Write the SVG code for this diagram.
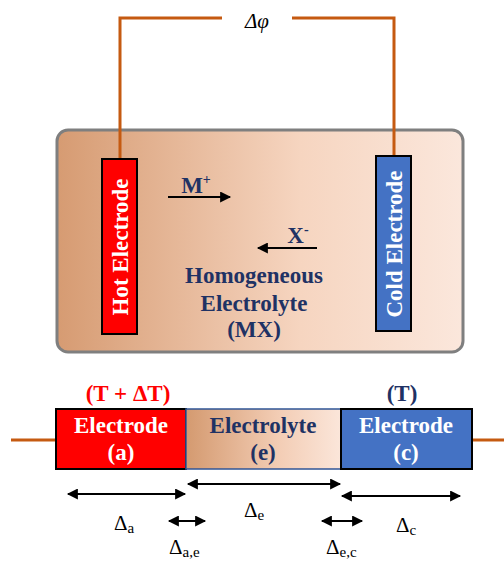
<svg xmlns="http://www.w3.org/2000/svg" width="504" height="562" viewBox="0 0 504 562">
<defs>
<linearGradient id="gbox" x1="0" y1="0" x2="1" y2="0">
<stop offset="0" stop-color="#d69b72"/>
<stop offset="0.6" stop-color="#f6d5c0"/>
<stop offset="1" stop-color="#fbe7dc"/>
</linearGradient>
<linearGradient id="gel" x1="0" y1="0" x2="1" y2="0">
<stop offset="0" stop-color="#d49a70"/>
<stop offset="0.6" stop-color="#f3cdb5"/>
<stop offset="1" stop-color="#fbe6da"/>
</linearGradient>
<marker id="ah" viewBox="0 0 10 10" refX="9" refY="5" markerWidth="5.5" markerHeight="5" orient="auto-start-reverse" markerUnits="strokeWidth">
<path d="M0,0 L10,5 L0,10 Z" fill="#000"/>
</marker>
</defs>
<style>
.wire{fill:none;stroke:#c55a11;stroke-width:3}
.arr{fill:none;stroke:#000;stroke-width:2.2}
.bt{font-size:23px;font-weight:bold;text-anchor:middle}
.wt{fill:#fff}
.nv{fill:#1f3264}
.rd{fill:#ff0000}
.dl{fill:#000;font-size:21px}
.sb{font-size:15px}
</style>
<g id="cell">
<rect x="57" y="130" width="406" height="222" rx="11" fill="url(#gbox)" stroke="#7f7f7f" stroke-width="3"/>
</g>
<g id="connectors">
<path class="wire" d="M120,159 V18 H222"/>
<path class="wire" d="M292,18 H394 V156"/>
<line class="wire" x1="11" y1="440" x2="56" y2="440"/>
<line class="wire" x1="472" y1="440" x2="504" y2="440"/>
<line class="arr" x1="168" y1="197" x2="230" y2="197" marker-end="url(#ah)"/>
<line class="arr" x1="317" y1="248" x2="258" y2="248" marker-end="url(#ah)"/>
<line class="arr" x1="68" y1="494" x2="185" y2="494" marker-start="url(#ah)" marker-end="url(#ah)"/>
<line class="arr" x1="188" y1="484" x2="340" y2="484" marker-start="url(#ah)" marker-end="url(#ah)"/>
<line class="arr" x1="342" y1="496" x2="460" y2="496" marker-start="url(#ah)" marker-end="url(#ah)"/>
<line class="arr" x1="169" y1="521" x2="205" y2="521" marker-start="url(#ah)" marker-end="url(#ah)"/>
<line class="arr" x1="322" y1="521" x2="362" y2="521" marker-start="url(#ah)" marker-end="url(#ah)"/>
</g>
<g font-family="Liberation Serif, DejaVu Serif, serif">
<g id="dphi"><text x="257" y="28" font-style="italic" font-size="21" text-anchor="middle">Δφ</text></g>
<g id="hot">
<rect x="102" y="159" width="35" height="175" fill="#ff0000" stroke="#000" stroke-width="2"/>
<text class="bt wt" transform="translate(128,247) rotate(-90)">Hot Electrode</text>
</g>
<g id="cold">
<rect x="376" y="156" width="35" height="175" fill="#4472c4" stroke="#000" stroke-width="2"/>
<text class="bt wt" transform="translate(402,244) rotate(-90)">Cold Electrode</text>
</g>
<g id="ions">
<text class="bt nv" x="196" y="193">M<tspan font-size="14" dy="-9">+</tspan></text>
<text class="bt nv" x="298" y="243">X<tspan font-size="14" dy="-9">-</tspan></text>
<text class="bt nv" x="254" y="283">Homogeneous</text>
<text class="bt nv" x="254" y="311">Electrolyte</text>
<text class="bt nv" x="254" y="337">(MX)</text>
</g>
<g id="electrode-a">
<rect x="56" y="409" width="130" height="60" fill="#ff0000" stroke="#000" stroke-width="2"/>
<text class="bt wt" x="121" y="433">Electrode</text>
<text class="bt wt" x="121" y="460">(a)</text>
<text class="bt rd" x="128" y="401">(T + ΔT)</text>
</g>
<g id="electrolyte-e">
<rect x="186" y="409" width="155" height="60" fill="url(#gel)" stroke="#2f5597" stroke-width="1.5"/>
<text class="bt nv" x="263" y="433">Electrolyte</text>
<text class="bt nv" x="263" y="460">(e)</text>
</g>
<g id="electrode-c">
<rect x="341" y="409" width="131" height="60" fill="#4472c4" stroke="#000" stroke-width="2"/>
<text class="bt wt" x="406" y="433">Electrode</text>
<text class="bt wt" x="406" y="460">(c)</text>
<text class="bt nv" x="402" y="401">(T)</text>
</g>
<g id="labels">
<text class="dl" x="114" y="530">Δ<tspan class="sb" dy="3">a</tspan></text>
<text class="dl" x="244" y="517">Δ<tspan class="sb" dy="3">e</tspan></text>
<text class="dl" x="396" y="532">Δ<tspan class="sb" dy="3">c</tspan></text>
<text class="dl" x="169" y="554">Δ<tspan class="sb" dy="3">a,e</tspan></text>
<text class="dl" x="326" y="554">Δ<tspan class="sb" dy="3">e,c</tspan></text>
</g>
</g>
</svg>
